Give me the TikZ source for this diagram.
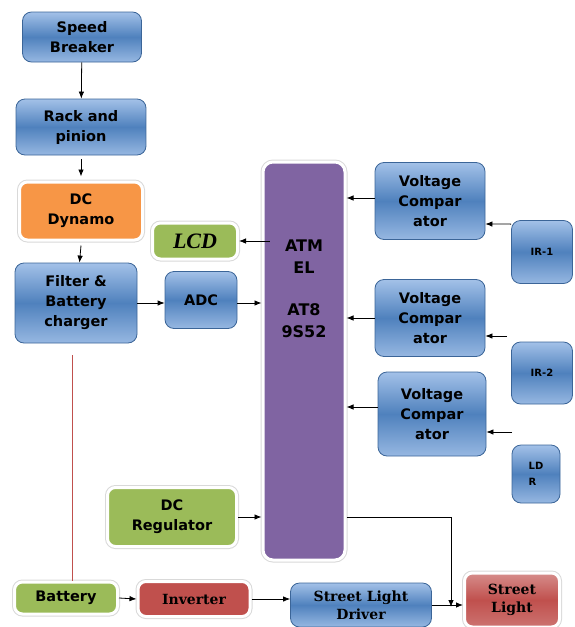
\documentclass[tikz,border=0pt]{standalone}
\usepackage{fontspec}
\setmainfont{Liberation Serif}
\setsansfont{DejaVu Sans}
\newfontfamily\wideserif{DejaVu Serif}
\usepackage{tikz}
\usetikzlibrary{arrows.meta,positioning,calc}
\usepackage{xcolor}
\definecolor{bluetop}{HTML}{A3C1E8}
\definecolor{bluemid}{HTML}{4F81BD}
\definecolor{blueedge}{HTML}{3B6598}
\definecolor{orng}{HTML}{F79646}
\definecolor{grn}{HTML}{9BBB59}
\definecolor{rd}{HTML}{C0504D}
\definecolor{purp}{HTML}{8064A2}
\tikzset{
    blk/.style={rounded corners=9pt, draw=blueedge, line width=0.8pt,
        top color=bluetop, bottom color=bluetop!85!bluemid, middle color=bluemid,
        font=\sffamily\bfseries\fontsize{14.5}{20}\selectfont, align=center, inner sep=0pt},
    glow/.style={rounded corners=8pt, preaction={draw=gray!30, line width=5pt},
        draw=white, line width=3pt, align=center, inner sep=0pt},
    sans/.style={font=\sffamily\bfseries\fontsize{14.5}{20}\selectfont},
    serif/.style={font=\wideserif\bfseries\fontsize{14}{18}\selectfont},
    small/.style={font=\sffamily\bfseries\fontsize{10}{16}\selectfont},
    arr/.style={-{Latex[length=7pt,width=5.5pt]}, line width=0.8pt},
}
\begin{document}
\begin{tikzpicture}[x=1pt,y=-1pt]
\useasboundingbox (0,0) rectangle (574,627);
% left column
\node[blk, minimum width=119pt, minimum height=50pt] (sb) at (82,37) {Speed\\Breaker};
\node[blk, minimum width=130pt, minimum height=56pt] (rp) at (81,127) {Rack and\\pinion};
\node[glow, sans, fill=orng, minimum width=123pt, minimum height=58pt] (dyn) at (81,211) {DC\\Dynamo};
\node[blk, minimum width=122pt, minimum height=80pt] (flt) at (76,303) {Filter \&\\Battery\\charger};
\node[blk, minimum width=72pt, minimum height=57pt] (adc) at (201,300) {ADC};
\node[glow, fill=grn, minimum width=85pt, minimum height=36pt,
    font=\rmfamily\bfseries\itshape\fontsize{22}{22}\selectfont] (lcd) at (195,241) {LCD};
% controller
\node[glow, fill=purp, rounded corners=10pt, minimum width=82pt, minimum height=398pt] (mcu) at (304,361) {};
\node[align=center, anchor=north, font=\sffamily\bfseries\fontsize{16}{22}\selectfont]
    (mcut) at ([yshift=-76pt]mcu.north) {ATM\\EL\\[20pt]AT8\\9S52};
% sensors
\node[blk, minimum width=110pt, minimum height=77pt] (vca) at (430,201) {Voltage\\Compar\\ator};
\node[blk, minimum width=110pt, minimum height=77pt] (vcb) at (430,318) {Voltage\\Compar\\ator};
\node[blk, minimum width=108pt, minimum height=84pt] (vcc) at (432,414) {Voltage\\Compar\\ator};
\node[blk, small, minimum width=61pt, minimum height=63pt] (ir1) at (542,252) {IR-1};
\node[blk, small, minimum width=61pt, minimum height=62pt] (ir2) at (542,373) {IR-2};
\node[blk, small, minimum width=48pt, minimum height=58pt, align=left] (ldr) at (536,474) {LD\\R};
\coordinate (inb) at (507,336);
\coordinate (inc) at (512,432);
% power / output
\node[glow, sans, fill=grn, minimum width=129pt, minimum height=59pt] (reg) at (172,517) {DC\\Regulator};
\node[glow, sans, fill=grn, minimum width=103pt, minimum height=32pt] (bat) at (66,598) {Battery};
\node[glow, serif, fill=rd, minimum width=112pt, minimum height=35pt] (inv) at (194,599) {Inverter};
\node[blk, serif, minimum width=141pt, minimum height=44pt] (sld) at (361,605) {Street Light\\Driver};
\node[glow, serif, top color=rd!65, bottom color=rd!80, middle color=rd, minimum width=95pt, minimum height=54pt] (sl) at (512,600) {Street\\Light};
\coordinate (jn) at (451,607);

\draw[arr] (sb) -- (rp);
\draw[arr] ([yshift=-4pt]rp.south) -- ([yshift=4pt]dyn.north);
\draw[arr] ([yshift=-4pt]dyn.south) -- (flt);
\draw[arr] (flt.east) -- (adc.west |- flt.east);
\draw[arr] (adc.east |- flt.east) -- (mcu.west |- flt.east);
\draw[arr] ([xshift=8pt]mcu.west |- lcd.east) -- (lcd.east);
\draw[arr] (vca.west |- 0,198) -- (mcu.east |- 0,198);
\draw[arr] (vcb.west) -- (mcu.east |- vcb.west);
\draw[arr] (vcc.west |- 0,407) -- (mcu.east |- 0,407);
\draw[arr] ([yshift=-4pt]ir1.north west) -- (vca.east |- 0,224);
\draw[arr] (inb) -- (vcb.east |- inb);
\draw[arr] (inc) -- (vcc.east |- inc);
\draw[arr] (reg.east) -- (mcu.west |- reg.east);
\draw[arr] (mcu.east |- reg.east) -| (jn);
\draw[arr] (bat.east) -- (inv.west);
\draw[arr] (inv.east) -- (sld.west |- inv.east);
\draw[arr] (sld.east) -- (sl.west |- sld.east);
\draw[rd, line width=0.8pt] ([xshift=6pt]bat.north) -- ([xshift=6pt]bat.north |- 0,355);
\end{tikzpicture}
\end{document}
